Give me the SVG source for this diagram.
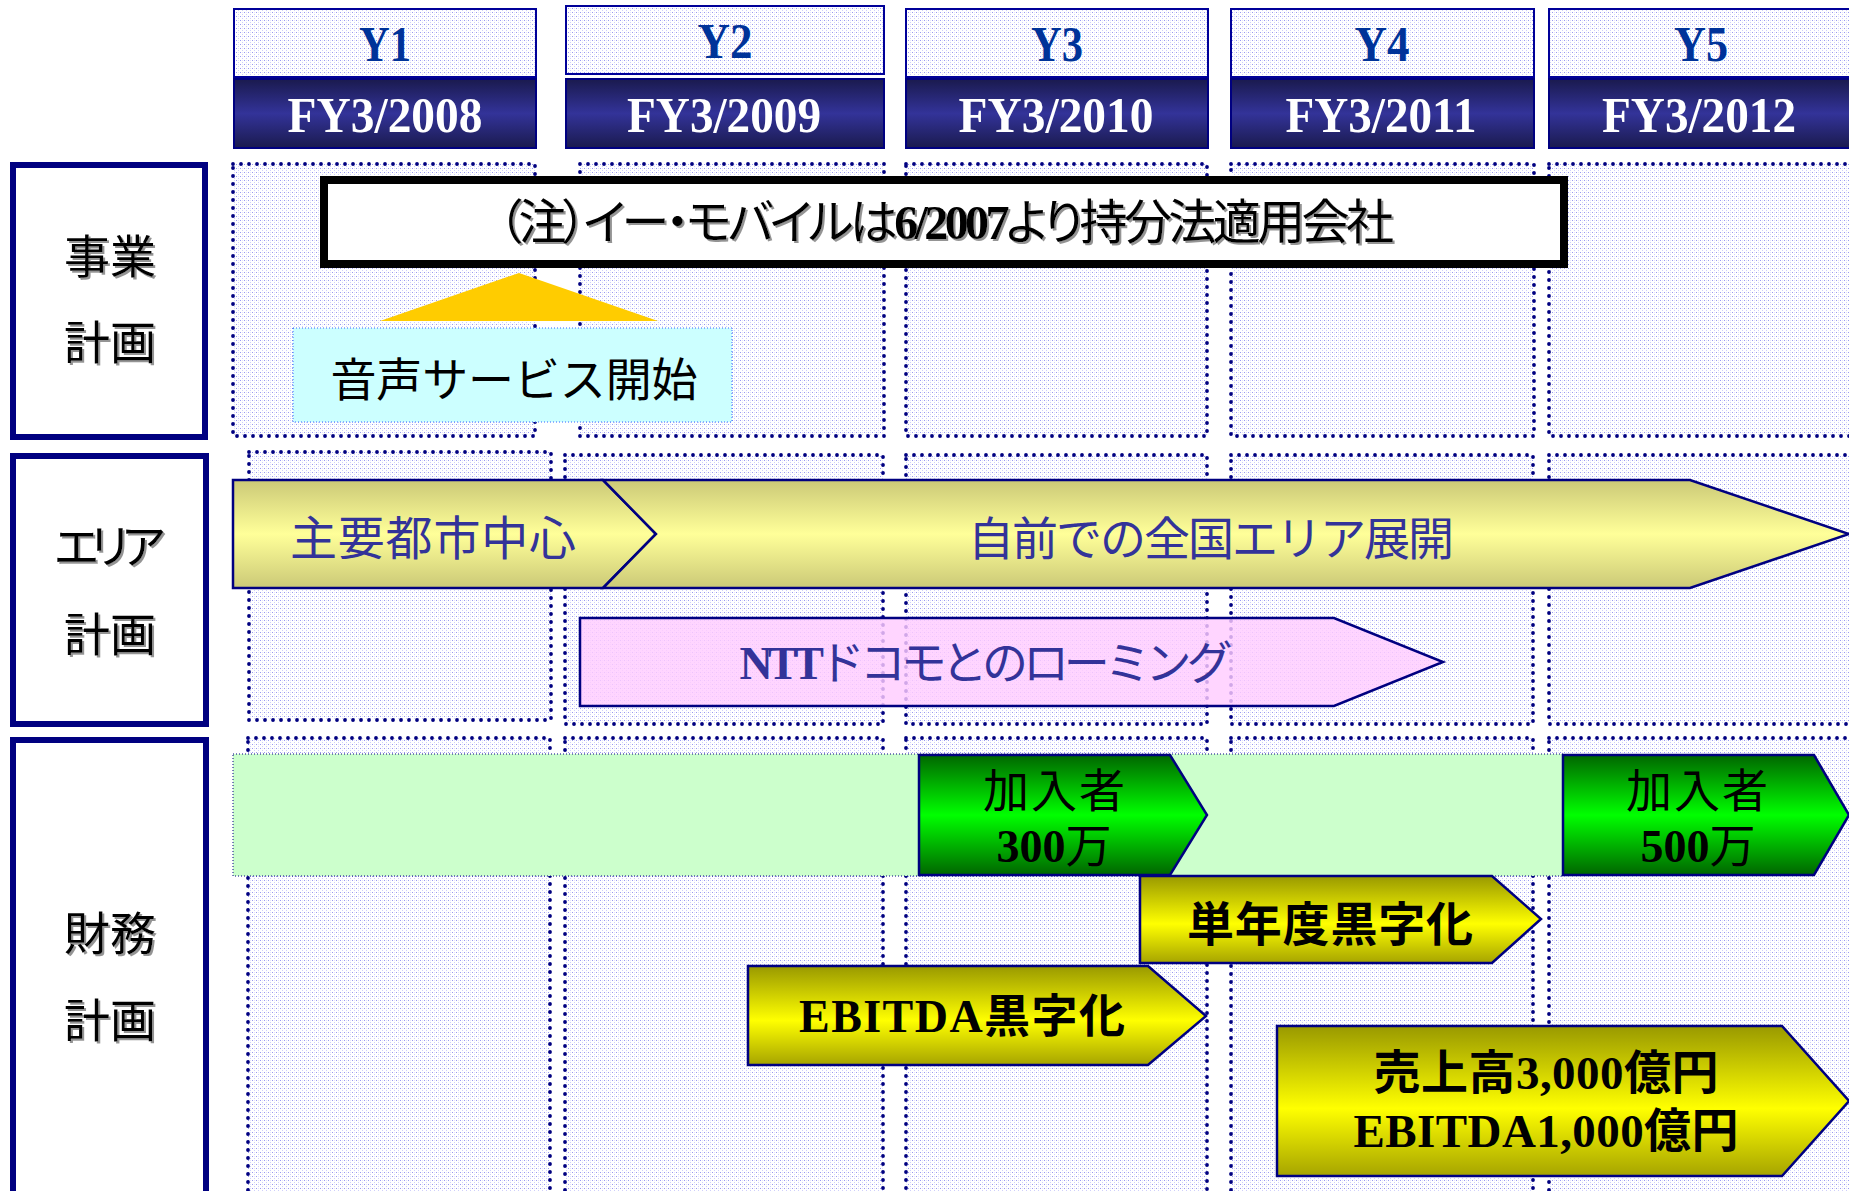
<svg xmlns="http://www.w3.org/2000/svg" width="1849" height="1191" viewBox="0 0 1849 1191">
<style>
.cell{fill:url(#dots);stroke:#000080;stroke-width:3.8;stroke-dasharray:0 8;stroke-linecap:round}
.yh{fill:url(#dots);stroke:#000099;stroke-width:2}
.fyh{fill:url(#gFY);stroke:#000080;stroke-width:2}
.lab{fill:#fff;stroke:#000080;stroke-width:6}
.arr{stroke:#000080;stroke-width:2.5;stroke-linejoin:miter}
.yt{font-family:'Liberation Serif',serif;font-weight:bold;font-size:51px;fill:#003399;text-anchor:middle}
.ft{font-family:'Liberation Serif',serif;font-weight:bold;font-size:51px;fill:#fff;text-anchor:middle}
.lt{font-family:'Noto Sans CJK JP',sans-serif;font-size:46px;fill:#000;text-anchor:middle;filter:url(#sh)}
.cj{font-family:'Noto Sans CJK JP',sans-serif}
.lb{font-family:'Liberation Serif','Noto Sans CJK JP',serif;font-weight:bold}
.mid{text-anchor:middle}
.blue{fill:#333399}
.blk{fill:#000}
</style>
<defs>
<pattern id="dots" width="4" height="4" patternUnits="userSpaceOnUse">
<rect width="4" height="4" fill="#fff"/>
<rect x="0" y="0" width="1" height="1" fill="#9a9af0"/>
<rect x="2" y="2" width="1" height="1" fill="#cfcffa"/>
<rect x="2" y="0" width="1" height="1" fill="#e4e4fc"/>
</pattern>
<linearGradient id="gFY" x1="0" y1="0" x2="0" y2="1">
<stop offset="0" stop-color="#1a1a4e"/><stop offset="0.5" stop-color="#333399"/><stop offset="1" stop-color="#1a1a4e"/>
</linearGradient>
<linearGradient id="gArea" x1="0" y1="0" x2="0" y2="1">
<stop offset="0" stop-color="#cbc977"/><stop offset="0.5" stop-color="#ffff99"/><stop offset="1" stop-color="#cbc977"/>
</linearGradient>
<linearGradient id="gYel" x1="0" y1="0" x2="0" y2="1">
<stop offset="0" stop-color="#999900"/><stop offset="0.55" stop-color="#ffff00"/><stop offset="1" stop-color="#a6a400"/>
</linearGradient>
<linearGradient id="gGrn" x1="0" y1="0" x2="0" y2="1">
<stop offset="0" stop-color="#006600"/><stop offset="0.5" stop-color="#00ff00"/><stop offset="1" stop-color="#006600"/>
</linearGradient>
<filter id="sh" x="-10%" y="-20%" width="130%" height="150%">
<feDropShadow dx="2" dy="2" stdDeviation="0.7" flood-color="#888" flood-opacity="0.9"/>
</filter>
</defs>
<rect width="1849" height="1191" fill="#fff"/>

<g id="grid-cells">
<rect class="cell" x="233" y="164" width="302" height="272"/>
<rect class="cell" x="580" y="164" width="304" height="272"/>
<rect class="cell" x="906" y="164" width="301" height="272"/>
<rect class="cell" x="1231" y="164" width="303" height="272"/>
<rect class="cell" x="1549" y="164" width="330" height="272"/>
<rect class="cell" x="249" y="452" width="302" height="268"/>
<rect class="cell" x="565" y="455" width="318" height="269"/>
<rect class="cell" x="906" y="455" width="301" height="269"/>
<rect class="cell" x="1231" y="455" width="302" height="269"/>
<rect class="cell" x="1549" y="455" width="330" height="269"/>
<rect class="cell" x="248" y="738" width="302" height="480"/>
<rect class="cell" x="565" y="738" width="318" height="480"/>
<rect class="cell" x="906" y="738" width="301" height="480"/>
<rect class="cell" x="1231" y="738" width="302" height="480"/>
<rect class="cell" x="1549" y="738" width="330" height="480"/>
</g>

<g id="header-y1">
<rect class="yh" x="234" y="9" width="302" height="68"/>
<text class="yt" x="385" y="61" textLength="52" lengthAdjust="spacingAndGlyphs">Y1</text>
<rect class="fyh" x="234" y="79" width="302" height="69"/>
<text class="ft" x="385" y="132" textLength="195" lengthAdjust="spacingAndGlyphs">FY3/2008</text>
</g>
<g id="header-y2">
<rect class="yh" x="566" y="6" width="318" height="68"/>
<text class="yt" x="725" y="58" textLength="55" lengthAdjust="spacingAndGlyphs">Y2</text>
<rect class="fyh" x="566" y="79" width="318" height="69"/>
<text class="ft" x="724" y="132" textLength="194" lengthAdjust="spacingAndGlyphs">FY3/2009</text>
</g>
<g id="header-y3">
<rect class="yh" x="906" y="9" width="302" height="68"/>
<text class="yt" x="1057" y="61" textLength="52" lengthAdjust="spacingAndGlyphs">Y3</text>
<rect class="fyh" x="906" y="79" width="302" height="69"/>
<text class="ft" x="1056" y="132" textLength="195" lengthAdjust="spacingAndGlyphs">FY3/2010</text>
</g>
<g id="header-y4">
<rect class="yh" x="1231" y="9" width="303" height="68"/>
<text class="yt" x="1382" y="61" textLength="55" lengthAdjust="spacingAndGlyphs">Y4</text>
<rect class="fyh" x="1231" y="79" width="303" height="69"/>
<text class="ft" x="1381" y="132" textLength="191" lengthAdjust="spacingAndGlyphs">FY3/2011</text>
</g>
<g id="header-y5">
<rect class="yh" x="1549" y="9" width="320" height="68"/>
<text class="yt" x="1701" y="61" textLength="54" lengthAdjust="spacingAndGlyphs">Y5</text>
<rect class="fyh" x="1549" y="79" width="320" height="69"/>
<text class="ft" x="1699" y="132" textLength="194" lengthAdjust="spacingAndGlyphs">FY3/2012</text>
</g>

<g id="label-business">
<rect class="lab" x="13" y="165" width="192" height="272"/>
<text class="lt" x="110" y="273">事業</text>
<text class="lt" x="110" y="359">計画</text>
</g>
<g id="label-area">
<rect class="lab" x="13" y="456" width="193" height="268"/>
<text class="lt" x="110" y="563" textLength="113">エリア</text>
<text class="lt" x="110" y="651">計画</text>
</g>
<g id="label-finance">
<rect class="lab" x="13" y="740" width="193" height="480"/>
<text class="lt" x="110" y="950">財務</text>
<text class="lt" x="110" y="1037">計画</text>
</g>

<g id="connectors">
<polygon points="380,321 519,273 658,321" fill="#ffcc00"/>
</g>

<g id="note">
<rect x="324" y="180" width="1240" height="84" fill="#fff" stroke="#000" stroke-width="8"/>
<text class="cj mid blk" x="946" y="239" font-size="48" textLength="896" style="font-feature-settings:'palt';filter:url(#sh)">（注）イー・モバイルは<tspan class="lb">6/2007</tspan>より持分法適用会社</text>
</g>

<g id="voice-service">
<rect x="293" y="328" width="439" height="94" fill="#ccffff" stroke="#3366ff" stroke-width="1" stroke-dasharray="1 2"/>
<text class="cj mid blk" x="514" y="396" font-size="46" textLength="367">音声サービス開始</text>
</g>

<g id="area-major-cities">
<path class="arr" d="M233,480 H603 L656,534 L603,588 H233 Z" fill="url(#gArea)"/>
<text class="cj mid blue" x="433" y="555" font-size="47" textLength="286">主要都市中心</text>
</g>
<g id="area-nationwide">
<path class="arr" d="M603,480 H1690 L1849,534 L1690,588 H603 L656,534 Z" fill="url(#gArea)"/>
<text class="cj mid blue" x="1211" y="555" font-size="46" textLength="486">自前での全国エリア展開</text>
</g>
<g id="area-roaming">
<path class="arr" d="M580,618 H1334 L1443,662 L1334,706 H580 Z" fill="#ffccff" fill-opacity="0.82"/>
<text class="cj mid blue" x="986" y="679" font-size="46" textLength="493"><tspan class="lb">NTT</tspan>ドコモとのローミング</text>
</g>

<g id="finance-band">
<rect x="233" y="754" width="1331" height="122" fill="#ccffcc" stroke="#000080" stroke-width="1" stroke-dasharray="1 2"/>
</g>
<g id="subs-3m">
<path class="arr" d="M919,755 H1170 L1207,815 L1170,875 H919 Z" fill="url(#gGrn)"/>
<text class="cj mid blk" x="1054" y="807" font-size="46" textLength="142">加入者</text>
<text class="cj mid blk" x="1054" y="862" font-size="46"><tspan class="lb">300</tspan>万</text>
</g>
<g id="subs-5m">
<path class="arr" d="M1563,755 H1814 L1849,815 L1814,875 H1563 Z" fill="url(#gGrn)"/>
<text class="cj mid blk" x="1697" y="807" font-size="46" textLength="142">加入者</text>
<text class="cj mid blk" x="1698" y="862" font-size="46"><tspan class="lb">500</tspan>万</text>
</g>
<g id="annual-profit">
<path class="arr" d="M1140,876 H1492 L1541,919 L1492,963 H1140 Z" fill="url(#gYel)"/>
<text class="cj mid blk" x="1330" y="941" font-size="47" font-weight="bold" textLength="286">単年度黒字化</text>
</g>
<g id="ebitda-profit">
<path class="arr" d="M748,966 H1148 L1206,1016 L1148,1065 H748 Z" fill="url(#gYel)"/>
<text class="cj mid blk" x="962" y="1032" font-size="46" font-weight="bold" textLength="326"><tspan class="lb">EBITDA</tspan>黒字化</text>
</g>
<g id="targets">
<path class="arr" d="M1277,1026 H1782 L1849,1101 L1782,1176 H1277 Z" fill="url(#gYel)"/>
<text class="cj mid blk" x="1546" y="1089" font-size="47" font-weight="bold" textLength="345">売上高<tspan class="lb">3,000</tspan>億円</text>
<text class="cj mid blk" x="1546" y="1147" font-size="47" font-weight="bold" textLength="385"><tspan class="lb">EBITDA1,000</tspan>億円</text>
</g>
</svg>
